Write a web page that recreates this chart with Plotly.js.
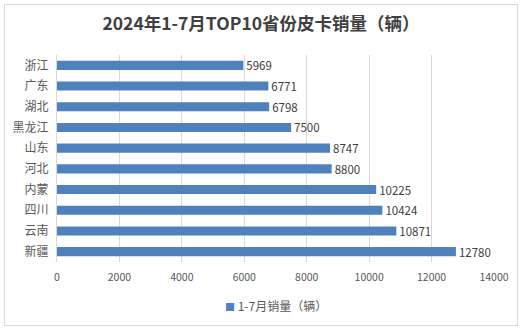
<!DOCTYPE html>
<html><head><meta charset="utf-8">
<script src="https://cdn.plot.ly/plotly-3.0.1.min.js"></script>
<style>
html,body{margin:0;padding:0;background:#fff;}
#frame{position:absolute;left:4px;top:4px;width:514px;height:322px;border:1px solid #d9d9d9;box-sizing:border-box;}
#chart{width:512px;height:320px;}
</style></head>
<body><div id="frame"><div id="chart"></div></div>
<script>
const provinces = ["浙江","广东","湖北","黑龙江","山东","河北","内蒙","四川","云南","新疆"];
const sales = [5969,6771,6798,7500,8747,8800,10225,10424,10871,12780];
const xTicks = [0,2000,4000,6000,8000,10000,12000,14000];
const seriesName = "1-7月销量（辆）";
const titleText = "2024年1-7月TOP10省份皮卡销量（辆）";
const barColor = '#4f81bd';

const font = '"Noto Sans CJK SC", "Noto Sans", sans-serif';
Plotly.newPlot('chart', [{
  type:'bar', orientation:'h',
  y: provinces, x: sales, name: seriesName,
  marker:{color:barColor},
  text: sales.map(String), textposition:'outside', cliponaxis:false, constraintext:'none',
  textfont:{size:11.5,color:'#404040',family:font},
  width:0.44, hoverinfo:'none'
}], {
  width:512, height:320,
  margin:{l:52,r:23,t:50,b:63},
  paper_bgcolor:'#fff', plot_bgcolor:'#fff',
  font:{family:font,color:'#595959'},
  title:{text:'<b>'+titleText+'</b>', x:0.5, xanchor:'center', y:0.94, yanchor:'middle', font:{size:17.5,color:'#404040',family:font}},
  xaxis:{range:[0,14000], tickvals:xTicks, ticktext:xTicks.map(String), showgrid:true, gridcolor:'#d9d9d9', gridwidth:1, zeroline:false, showline:false, ticks:'', ticklabelstandoff:7, tickfont:{size:10.5,color:'#595959'}, fixedrange:true},
  yaxis:{autorange:'reversed', showgrid:false, showline:true, linecolor:'#d9d9d9', ticks:'', tickfont:{size:12,color:'#595959'}, ticklabelstandoff:5, fixedrange:true},
  showlegend:false,
  annotations:[
    {xref:'paper',yref:'paper',x:0.5,y:-0.21,xanchor:'center',yanchor:'middle',showarrow:false,
     text:'<span style="color:'+barColor+';font-size:10px">■</span> '+seriesName,font:{size:12,color:'#595959',family:font}}
  ]
}, {staticPlot:true});
</script></body></html>
